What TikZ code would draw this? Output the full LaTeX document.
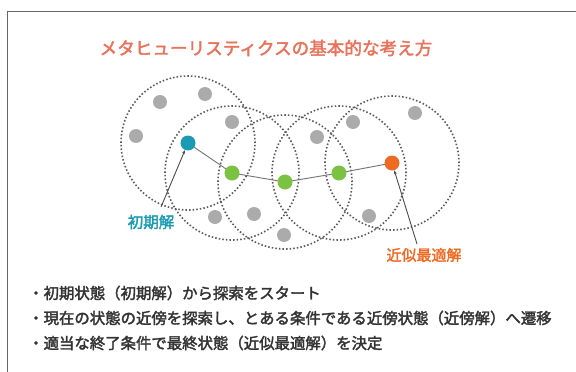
\documentclass[tikz,border=0pt]{standalone}
\usepackage{fontspec}
\newfontfamily\jpb{Noto Sans CJK JP}[FakeBold=2.2]
\usetikzlibrary{arrows.meta}
\definecolor{titlecol}{HTML}{E8735A}
\definecolor{cyancol}{HTML}{1A9BB3}
\definecolor{greencol}{HTML}{7CC242}
\definecolor{orangecol}{HTML}{EE6A22}
\definecolor{graydot}{HTML}{ABABAB}
\definecolor{framecol}{HTML}{666666}
\definecolor{txtcol}{HTML}{333333}
\tikzset{
  hood/.style={circle, draw=black!65, line width=1.6pt, dash pattern=on 1.5pt off 2.1pt, minimum size=134pt, inner sep=0pt},
  gdot/.style={circle, fill=graydot, minimum size=14pt, inner sep=0pt},
  sdot/.style={circle, minimum size=15pt, inner sep=0pt},
  pathline/.style={draw=black!55, line width=0.9pt},
  pointer/.style={draw=black!70, line width=0.9pt, -{Stealth[length=4pt,width=3pt]}},
  bullet/.style={anchor=west, font=\jpb\fontsize{15.4}{17}\selectfont, text=txtcol, inner sep=0pt}
}
\begin{document}
\begin{tikzpicture}[x=1pt,y=-1pt]
\useasboundingbox (0,0) rectangle (576,372);
\fill[white] (0,0) rectangle (576,372);
\draw[framecol, line width=1pt] (7,372) -- (7,11) -- (576,11);
\node[font=\jpb\fontsize{17.6}{20}\selectfont, text=titlecol, inner sep=0pt] (title) at (266,48) {メタヒューリスティクスの基本的な考え方};
% neighbourhoods
\node[hood] (c1) at (188,143) {};
\node[hood] (c2) at (232,173) {};
\node[hood] (c3) at (285,182) {};
\node[hood] (c4) at (339,173) {};
\node[hood] (c5) at (392,163) {};
% gray candidate points
\node[gdot] (g1) at (160,102) {};
\node[gdot] (g2) at (205,94) {};
\node[gdot] (g3) at (136,136) {};
\node[gdot] (g4) at (232,122) {};
\node[gdot] (g5) at (215,217) {};
\node[gdot] (g6) at (254,214) {};
\node[gdot] (g7) at (284,235) {};
\node[gdot] (g8) at (317,137) {};
\node[gdot] (g9) at (353,122) {};
\node[gdot] (g10) at (415,113) {};
\node[gdot] (g11) at (369,216) {};
% search path
\node[sdot] (s0) at (188,143) {};
\node[sdot] (s1) at (232,173) {};
\node[sdot] (s2) at (285,182) {};
\node[sdot] (s3) at (339,173) {};
\node[sdot] (s4) at (392,163) {};
\draw[pathline] (s0.center) -- (s1.center) -- (s2.center) -- (s3.center) -- (s4.center);
\node[sdot, fill=cyancol] at (s0) {};
\node[sdot, fill=greencol] at (s1) {};
\node[sdot, fill=greencol] at (s2) {};
\node[sdot, fill=greencol] at (s3) {};
\node[sdot, fill=orangecol] at (s4) {};
% labels
\node[font=\jpb\fontsize{15.5}{17}\selectfont, text=cyancol, inner sep=1pt] (linit) at (151,222) {初期解};
\node[font=\jpb\fontsize{15}{17}\selectfont, text=orangecol, inner sep=1pt] (lbest) at (424,255) {近似最適解};
\coordinate (linitEnd) at (161,207);
\coordinate (lbestEnd) at (417,244);
\draw[pointer] (linitEnd) -- (s0);
\draw[pointer] (lbestEnd) -- (s4);
% bullets
\node[bullet] (b1) at (28,293) {・初期状態（初期解）から探索をスタート};
\node[bullet] (b2) at (28,318) {・現在の状態の近傍を探索し、とある条件である近傍状態（近傍解）へ遷移};
\node[bullet] (b3) at (28,343) {・適当な終了条件で最終状態（近似最適解）を決定};
\end{tikzpicture}
\end{document}
